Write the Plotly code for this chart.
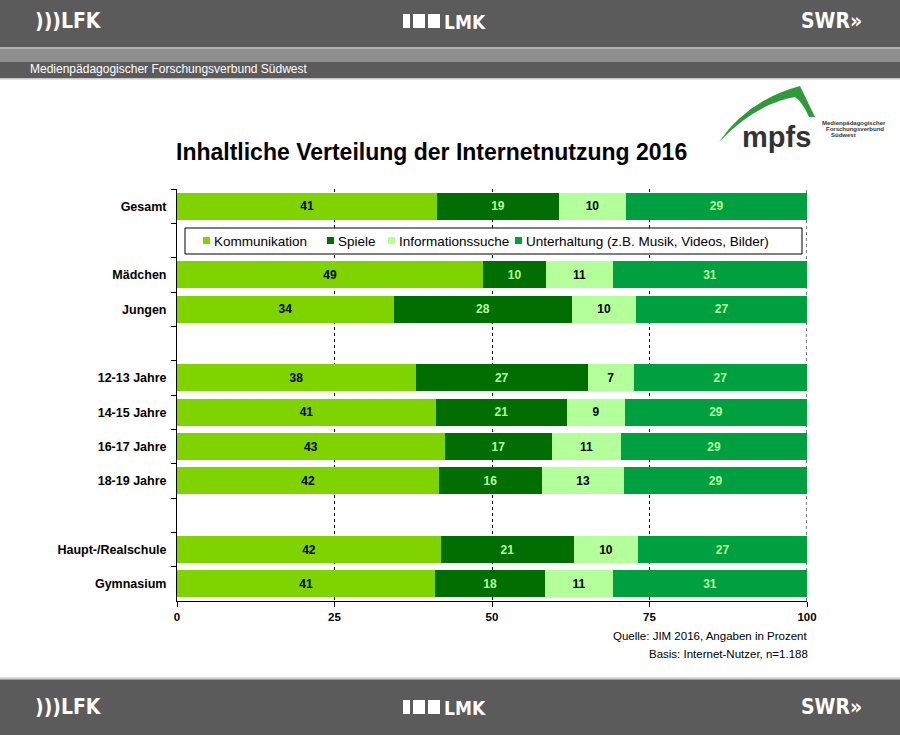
import plotly.graph_objects as go

# ---------------- data ----------------
categories = ["Gesamt", "Mädchen", "Jungen", "12-13 Jahre", "14-15 Jahre",
              "16-17 Jahre", "18-19 Jahre", "Haupt-/Realschule", "Gymnasium"]
axis_order = ["Gesamt", " ", "Mädchen", "Jungen", "  ", "12-13 Jahre", "14-15 Jahre",
              "16-17 Jahre", "18-19 Jahre", "   ", "Haupt-/Realschule", "Gymnasium"]

kommunikation = [41.3, 48.6, 34.4, 37.9, 41.1, 42.5, 41.6, 41.9, 41.0]
kommunikation_labels = [41, 49, 34, 38, 41, 43, 42, 42, 41]
spiele = [19.3, 10.0, 28.3, 27.3, 20.8, 17.0, 16.3, 21.1, 17.4]
spiele_labels = [19, 10, 28, 27, 21, 17, 16, 21, 18]
informationssuche = [10.7, 10.6, 10.2, 7.3, 9.2, 11.0, 13.1, 10.2, 10.8]
informationssuche_labels = [10, 11, 10, 7, 9, 11, 13, 10, 11]
unterhaltung = [28.7, 30.8, 27.1, 27.5, 28.9, 29.5, 29.0, 26.8, 30.8]
unterhaltung_labels = [29, 31, 27, 27, 29, 29, 29, 27, 31]

series_names = ["Kommunikation", "Spiele", "Informationssuche",
                "Unterhaltung (z.B. Musik, Videos, Bilder)"]
x_ticks = [0, 25, 50, 75, 100]

# ---------------- geometry helpers ----------------
W, H = 900, 735
PL, PR, PT, PB = 177, 807, 189, 601


def px(x):
    return (x - PL) / (PR - PL)


def py(y):
    return (PB - y) / (PB - PT)


colors = ["#7fd400", "#006e00", "#b3ff99", "#00a040"]
text_colors = ["#000000", "#b3ff99", "#000000", "#b3ff99"]
values = [kommunikation, spiele, informationssuche, unterhaltung]
labels = [kommunikation_labels, spiele_labels, informationssuche_labels, unterhaltung_labels]

fig = go.Figure()
for name, vals, labs, col, tcol in zip(series_names, values, labels, colors, text_colors):
    fig.add_trace(go.Bar(
        y=categories, x=vals, name=name, orientation="h",
        marker=dict(color=col, line=dict(width=0)),
        text=[str(v) for v in labs], textposition="inside",
        insidetextanchor="middle", textangle=0,
        textfont=dict(family="Liberation Sans, Arial", size=12, color=tcol, weight="bold"),
        hoverinfo="skip", showlegend=False,
    ))

fig.update_layout(
    width=W, height=H,
    margin=dict(l=PL, r=W - PR, t=PT, b=H - PB, pad=0),
    paper_bgcolor="white", plot_bgcolor="white",
    barmode="stack", bargap=0.21,
    font=dict(family="Liberation Sans, Arial", color="black"),
    showlegend=False,
    xaxis=dict(
        range=[0, 100], tickvals=x_ticks, ticktext=[str(t) for t in x_ticks],
        showgrid=True, gridcolor="black", griddash="3px,3px", gridwidth=1,
        showline=True, linecolor="black", linewidth=1,
        ticks="outside", ticklen=5, tickcolor="black",
        tickfont=dict(size=11.5, weight="bold"), zeroline=False, fixedrange=True,
    ),
    yaxis=dict(
        type="category", categoryorder="array", categoryarray=axis_order,
        range=[len(axis_order) - 0.5, -0.5],
        showline=True, linecolor="black", linewidth=1,
        ticks="outside", ticklen=5, tickcolor="black", tickson="boundaries",
        tickfont=dict(size=12.5, weight="bold"), ticklabelstandoff=7,
        showgrid=False, zeroline=False, fixedrange=True,
    ),
)

shapes = []
annotations = []


def rect(x0, y0, x1, y1, color, line=None):
    shapes.append(dict(type="rect", xref="paper", yref="paper",
                       x0=px(x0), x1=px(x1), y0=py(y0), y1=py(y1),
                       fillcolor=color, line=line or dict(width=0), layer="above"))


def text(x, y, s, size, color="black", xanchor="center", weight="normal", family="Liberation Sans, Arial"):
    annotations.append(dict(xref="paper", yref="paper", x=px(x), y=py(y), text=s,
                            showarrow=False, xanchor=xanchor, yanchor="middle",
                            font=dict(size=size, color=color, family=family, weight=weight)))


# dashed gridline at the right edge (100)
shapes.append(dict(type="line", xref="x", yref="paper", x0=100, x1=100, y0=0, y1=1,
                   line=dict(color="black", width=1, dash="3px,3px"), layer="below"))

# header bands
rect(0, 0, W, 47, "#5b5b5b")
rect(0, 47, W, 48.5, "#b0b0b0")
rect(0, 48.5, W, 62, "#8f8f8f")
rect(0, 62, W, 78, "#5b5b5b")
rect(0, 78, W, 79.5, "#c8c8c8")
# footer bands
rect(0, 677.5, W, 679.5, "#c8c8c8")
rect(0, 679.5, W, H, "#5b5b5b")

cond = "DejaVu Sans Condensed, Liberation Sans Narrow, Arial"
for yc in (21, 707):
    text(33, yc, ")))LFK", 21, "white", "left", "bold", cond)
    text(799, yc, "SWR»", 21, "white", "left", "bold", cond)
    rect(403, yc - 7, 410, yc + 7, "white")
    rect(413, yc - 7, 425, yc + 7, "white")
    rect(428, yc - 7, 440, yc + 7, "white")
    text(442, yc + 1, "LMK", 19, "white", "left", "bold", cond)

text(28, 69, "Medienpädagogischer Forschungsverbund Südwest", 12, "white", "left")

# title
text(431, 152, "Inhaltliche Verteilung der Internetnutzung 2016", 23, "black", "center", "bold")

# custom legend box (single row as in the reference)
rect(185, 228, 802, 254, "white", dict(color="black", width=1))
legend_x = [203, 327, 388, 515]
for name, col, lx in zip(series_names, colors, legend_x):
    rect(lx, 237, lx + 7, 244, col)
    text(lx + 9, 241, name, 13.5, "black", "left")

# source notes
annotations.append(dict(xref="paper", yref="paper", x=px(810), y=py(636), text="Quelle: JIM 2016, Angaben in Prozent",
                        showarrow=False, xanchor="right", yanchor="middle", font=dict(size=11.5)))
annotations.append(dict(xref="paper", yref="paper", x=px(810), y=py(654), text="Basis: Internet-Nutzer, n=1.188",
                        showarrow=False, xanchor="right", yanchor="middle", font=dict(size=11.5)))

# mpfs logo
pts = "M {},{} Q {},{} {},{} L {},{} L {},{} Q {},{} {},{} Q {},{} {},{} Z".format(
    px(719), py(142), px(748), py(100), px(800), py(86), px(815), py(117), px(809), py(117),
    px(803), py(103), px(795), py(97), px(755), py(104), px(719), py(142))
shapes.append(dict(type="path", xref="paper", yref="paper", path=pts,
                   fillcolor="#2e9a3a", line=dict(width=0), layer="above"))
text(776, 137, "mpfs", 29, "#333333", "center", "bold", "Liberation Sans, Arial")
text(820, 123, "Medienpädagogischer", 6, "#333333", "left", "bold")
text(824, 129, "Forschungsverbund", 6, "#333333", "left", "bold")
text(829, 135, "Südwest", 6, "#333333", "left", "bold")

fig.update_layout(shapes=shapes, annotations=annotations)
fig.write_html("out.html")
